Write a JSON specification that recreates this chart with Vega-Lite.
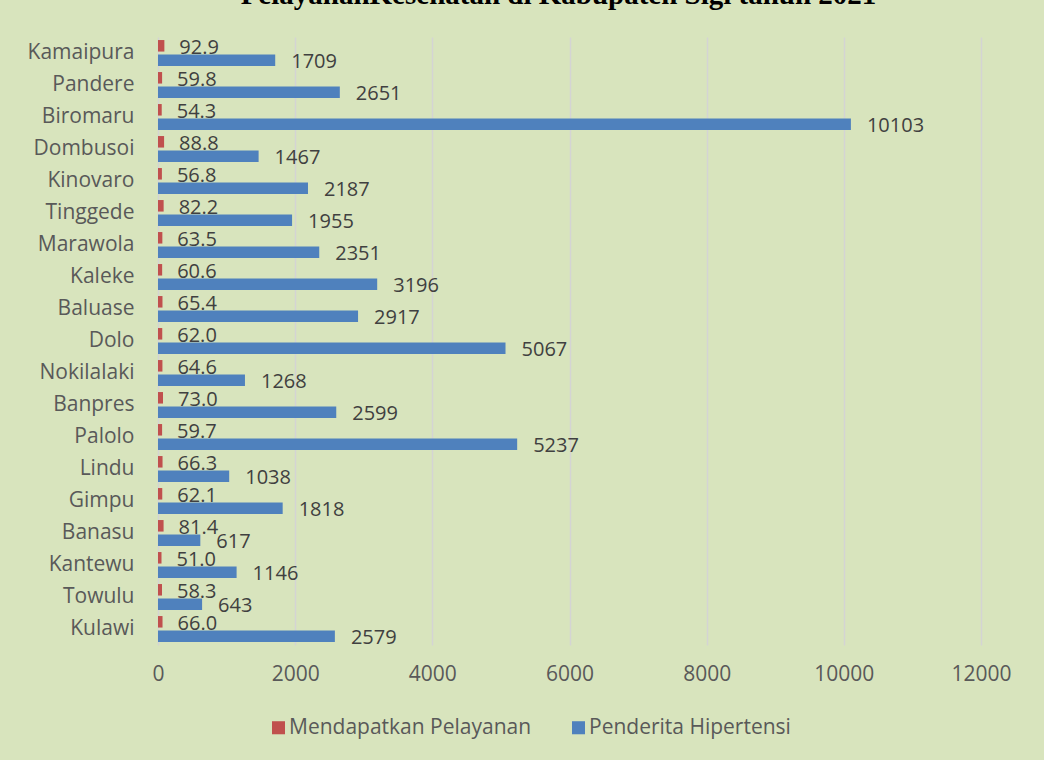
{
  "$schema": "https://vega.github.io/schema/vega-lite/v6.json",
  "autosize": {"type": "none"},
  "width": 823,
  "height": 608,
  "padding": {"left": 158, "top": 37, "right": 63, "bottom": 115},
  "background": "#d8e4bd",
  "title": {
    "text": "PelayananKesehatan di Kabupaten Sigi tahun 2021",
    "font": "Liberation Serif",
    "fontWeight": "bold",
    "fontSize": 29,
    "color": "#000000",
    "anchor": "middle",
    "dx": -11,
    "offset": 27
  },
  "data": {
    "values": [
      {"kec": "Kamaipura", "seri": "Mendapatkan Pelayanan", "nilai": 92.9},
      {"kec": "Kamaipura", "seri": "Penderita Hipertensi", "nilai": 1709},
      {"kec": "Pandere", "seri": "Mendapatkan Pelayanan", "nilai": 59.8},
      {"kec": "Pandere", "seri": "Penderita Hipertensi", "nilai": 2651},
      {"kec": "Biromaru", "seri": "Mendapatkan Pelayanan", "nilai": 54.3},
      {"kec": "Biromaru", "seri": "Penderita Hipertensi", "nilai": 10103},
      {"kec": "Dombusoi", "seri": "Mendapatkan Pelayanan", "nilai": 88.8},
      {"kec": "Dombusoi", "seri": "Penderita Hipertensi", "nilai": 1467},
      {"kec": "Kinovaro", "seri": "Mendapatkan Pelayanan", "nilai": 56.8},
      {"kec": "Kinovaro", "seri": "Penderita Hipertensi", "nilai": 2187},
      {"kec": "Tinggede", "seri": "Mendapatkan Pelayanan", "nilai": 82.2},
      {"kec": "Tinggede", "seri": "Penderita Hipertensi", "nilai": 1955},
      {"kec": "Marawola", "seri": "Mendapatkan Pelayanan", "nilai": 63.5},
      {"kec": "Marawola", "seri": "Penderita Hipertensi", "nilai": 2351},
      {"kec": "Kaleke", "seri": "Mendapatkan Pelayanan", "nilai": 60.6},
      {"kec": "Kaleke", "seri": "Penderita Hipertensi", "nilai": 3196},
      {"kec": "Baluase", "seri": "Mendapatkan Pelayanan", "nilai": 65.4},
      {"kec": "Baluase", "seri": "Penderita Hipertensi", "nilai": 2917},
      {"kec": "Dolo", "seri": "Mendapatkan Pelayanan", "nilai": 62.0},
      {"kec": "Dolo", "seri": "Penderita Hipertensi", "nilai": 5067},
      {"kec": "Nokilalaki", "seri": "Mendapatkan Pelayanan", "nilai": 64.6},
      {"kec": "Nokilalaki", "seri": "Penderita Hipertensi", "nilai": 1268},
      {"kec": "Banpres", "seri": "Mendapatkan Pelayanan", "nilai": 73.0},
      {"kec": "Banpres", "seri": "Penderita Hipertensi", "nilai": 2599},
      {"kec": "Palolo", "seri": "Mendapatkan Pelayanan", "nilai": 59.7},
      {"kec": "Palolo", "seri": "Penderita Hipertensi", "nilai": 5237},
      {"kec": "Lindu", "seri": "Mendapatkan Pelayanan", "nilai": 66.3},
      {"kec": "Lindu", "seri": "Penderita Hipertensi", "nilai": 1038},
      {"kec": "Gimpu", "seri": "Mendapatkan Pelayanan", "nilai": 62.1},
      {"kec": "Gimpu", "seri": "Penderita Hipertensi", "nilai": 1818},
      {"kec": "Banasu", "seri": "Mendapatkan Pelayanan", "nilai": 81.4},
      {"kec": "Banasu", "seri": "Penderita Hipertensi", "nilai": 617},
      {"kec": "Kantewu", "seri": "Mendapatkan Pelayanan", "nilai": 51.0},
      {"kec": "Kantewu", "seri": "Penderita Hipertensi", "nilai": 1146},
      {"kec": "Towulu", "seri": "Mendapatkan Pelayanan", "nilai": 58.3},
      {"kec": "Towulu", "seri": "Penderita Hipertensi", "nilai": 643},
      {"kec": "Kulawi", "seri": "Mendapatkan Pelayanan", "nilai": 66.0},
      {"kec": "Kulawi", "seri": "Penderita Hipertensi", "nilai": 2579}
    ]
  },
  "encoding": {
    "y": {
      "field": "kec",
      "type": "nominal",
      "sort": null,
      "title": null,
      "scale": {"paddingInner": 0.19, "paddingOuter": 0.095},
      "axis": {
        "domain": false,
        "ticks": false,
        "grid": false,
        "labelFont": "Open Sans",
        "labelFontSize": 21,
        "labelColor": "#595959",
        "labelPadding": 24
      }
    },
    "yOffset": {
      "field": "seri",
      "type": "nominal",
      "sort": ["Mendapatkan Pelayanan", "Penderita Hipertensi"],
      "scale": {"paddingInner": 0.2, "paddingOuter": 0}
    },
    "x": {
      "field": "nilai",
      "type": "quantitative",
      "title": null,
      "scale": {"domain": [0, 12000], "nice": false},
      "axis": {
        "values": [0, 2000, 4000, 6000, 8000, 10000, 12000],
        "domain": false,
        "ticks": false,
        "grid": true,
        "gridColor": "#d4d4d4",
        "gridWidth": 1.5,
        "labelFlush": false,
        "labelFont": "Open Sans",
        "labelFontSize": 21,
        "labelColor": "#595959",
        "labelPadding": 18,
        "format": "d"
      }
    }
  },
  "layer": [
    {
      "mark": {"type": "bar"},
      "encoding": {
        "color": {
          "field": "seri",
          "type": "nominal",
          "sort": ["Mendapatkan Pelayanan", "Penderita Hipertensi"],
          "scale": {"domain": ["Mendapatkan Pelayanan", "Penderita Hipertensi"], "range": ["#c0504d", "#4f81bd"]},
          "legend": {
            "title": null,
            "orient": "none",
            "direction": "horizontal",
            "legendX": 110,
            "legendY": 680,
            "padding": 0,
            "symbolType": "square",
            "symbolSize": 170,
            "symbolStrokeWidth": 0,
            "symbolOpacity": 1,
            "labelFont": "Open Sans",
            "labelFontSize": 21,
            "labelColor": "#595959",
            "labelLimit": 0,
            "labelOffset": 0,
            "columnPadding": 36
          }
        }
      }
    },
    {
      "transform": [{"filter": "datum.seri === 'Mendapatkan Pelayanan'"}],
      "mark": {"type": "text", "align": "left", "baseline": "middle", "dx": 15, "dy": 2, "font": "Open Sans", "fontSize": 20, "color": "#404040"},
      "encoding": {
        "text": {"field": "nilai", "type": "quantitative", "format": ".1f"}
      }
    },
    {
      "transform": [{"filter": "datum.seri === 'Penderita Hipertensi'"}],
      "mark": {"type": "text", "align": "left", "baseline": "middle", "dx": 16, "dy": 2, "font": "Open Sans", "fontSize": 20, "color": "#404040"},
      "encoding": {
        "text": {"field": "nilai", "type": "quantitative", "format": "d"}
      }
    }
  ],
  "config": {"view": {"stroke": null}}
}
